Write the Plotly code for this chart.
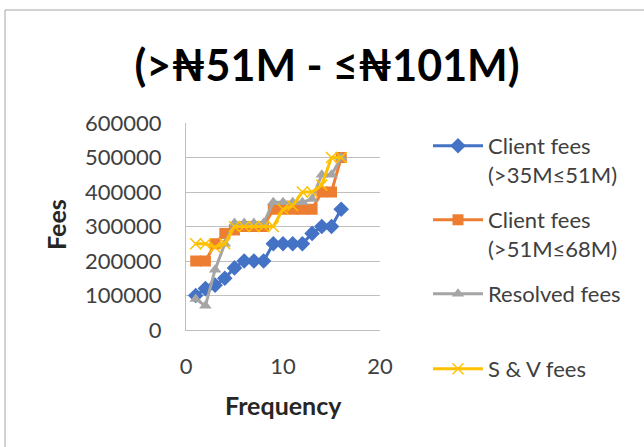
import plotly.graph_objects as go

freq = list(range(1, 17))
client_35_51 = [100000, 120000, 130000, 150000, 180000, 200000, 200000, 200000,
                250000, 250000, 250000, 250000, 280000, 300000, 300000, 350000]
client_51_68 = [200000, 200000, 250000, 280000, 290000, 300000, 300000, 300000,
                350000, 350000, 350000, 350000, 350000, 400000, 400000, 500000]
resolved = [90000, 70000, 175000, 250000, 310000, 310000, 310000, 310000,
            370000, 370000, 370000, 370000, 380000, 450000, 450000, 500000]
sv_fees = [250000, 250000, 240000, 250000, 300000, 300000, 300000, 300000,
           300000, 350000, 360000, 400000, 400000, 420000, 500000, 500000]

names = ["Client fees<br>(>35M≤51M)", "Client fees<br>(>51M≤68M)", "Resolved fees", "S & V fees"]
colors = ["#4472C4", "#ED7D31", "#A5A5A5", "#FFC000"]

W, H = 644, 447
L, R, T, B = 186, 380, 123, 330  # plot area pixels
pw, ph = R - L, B - T

def px_x(x):
    return (x - L) / pw

def px_y(y):
    return (B - y) / ph

FONT = "Lato, 'DejaVu Sans', sans-serif"
TXT = "#404040"

fig = go.Figure()
series = [client_35_51, client_51_68, resolved, sv_fees]
markers = [
    dict(symbol="diamond", size=12, color=colors[0]),
    dict(symbol="square", size=11, color=colors[1]),
    dict(symbol="triangle-up", size=11, color=colors[2]),
    dict(symbol="x-thin-open", size=11, color=colors[3], line=dict(width=1.5, color=colors[3])),
]
legend_ids = ["legend", "legend2", "legend3", "legend4"]
legend_y = [146, 220, 294, 369]
for i, (vals, nm) in enumerate(zip(series, names)):
    fig.add_trace(go.Scatter(
        x=freq, y=vals, name=nm, mode="lines+markers",
        line=dict(color=colors[i], width=3),
        marker=markers[i],
        legend=legend_ids[i],
    ))

legend_common = dict(
    font=dict(family=FONT, size=22, color=TXT),
    bgcolor="rgba(0,0,0,0)", xanchor="left", yanchor="top",
    valign="top", itemwidth=50, tracegroupgap=0,
)
layout_legends = {}
for lid, ly in zip(legend_ids, legend_y):
    layout_legends[lid] = dict(legend_common, x=px_x(428), y=px_y(ly - 21))

fig.update_layout(
    width=W, height=H,
    margin=dict(l=L, r=W - R, t=T, b=H - B),
    paper_bgcolor="white", plot_bgcolor="white",
    title=dict(text="<b>(>₦51M - ≤₦101M)</b>", x=327 / W, xanchor="center",
               y=1 - 66 / H, yanchor="middle",
               font=dict(family=FONT, size=43, color="black")),
    xaxis=dict(range=[0, 20], dtick=10, showgrid=False, zeroline=False,
               showline=True, linecolor="#BFBFBF", linewidth=1,
               ticks="", ticklabelstandoff=17,
               tickfont=dict(family=FONT, size=22, color=TXT)),
    yaxis=dict(range=[0, 600000], dtick=100000, showgrid=True, gridcolor="#BFBFBF",
               gridwidth=1, zeroline=False, showline=True, linecolor="#BFBFBF",
               linewidth=1, ticks="", ticklabelstandoff=19, tickformat="d",
               tickfont=dict(family=FONT, size=22, color=TXT)),
    showlegend=True,
    **layout_legends,
)

fig.add_annotation(text="<b>Frequency</b>", x=px_x(283), y=px_y(405), xref="paper", yref="paper",
                   showarrow=False, font=dict(family=FONT, size=25, color="#262626"),
                   xanchor="center", yanchor="middle")
fig.add_annotation(text="<b>Fees</b>", x=px_x(56), y=px_y(225), xref="paper", yref="paper",
                   showarrow=False, textangle=-90, font=dict(family=FONT, size=25, color="#262626"),
                   xanchor="center", yanchor="middle")

fig.add_shape(type="rect", xref="paper", yref="paper",
              x0=px_x(5), x1=px_x(660), y0=px_y(460), y1=px_y(10),
              line=dict(color="#A6A6A6", width=1), fillcolor="rgba(0,0,0,0)", layer="below")

fig.write_html("out.html", config={"displayModeBar": False},
               post_script="document.body.style.margin='0px';")
